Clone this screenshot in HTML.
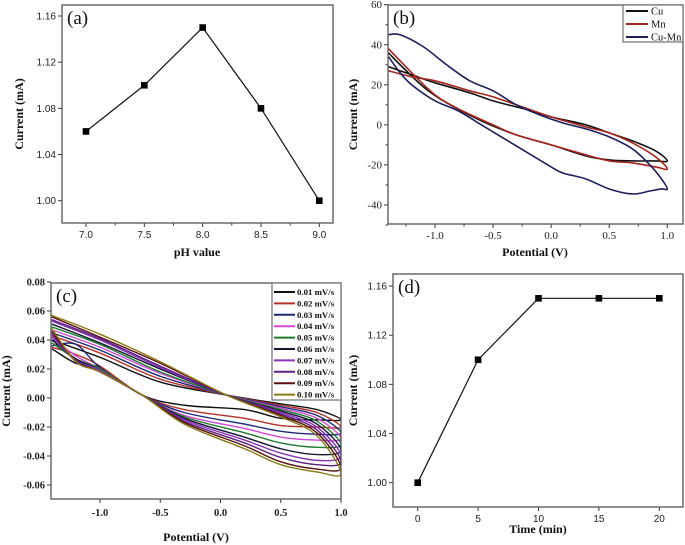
<!DOCTYPE html>
<html><head><meta charset="utf-8"><style>
html,body{margin:0;padding:0;background:#fff}
svg{display:block}
</style></head><body>
<svg id="fig" width="685" height="545" viewBox="0 0 685 545" xmlns="http://www.w3.org/2000/svg"></svg>
<script>
// ---------- Panel (a) data ----------
const phValues = [7.0, 7.5, 8.0, 8.5, 9.0];
const phCurrent = [1.06, 1.10, 1.15, 1.08, 1.00];
const aXTicks = ["7.0","7.5","8.0","8.5","9.0"];
const aYTicks = ["1.00","1.04","1.08","1.12","1.16"];
// ---------- Panel (d) data ----------
const timeValues = [0, 5, 10, 15, 20];
const timeCurrent = [1.00, 1.10, 1.15, 1.15, 1.15];
const dXTicks = ["0","5","10","15","20"];
const dYTicks = ["1.00","1.04","1.08","1.12","1.16"];
// ---------- Panel (b) data ----------
const bSeries = ["Cu","Mn","Cu-Mn"];
const cuV = [-1.4,-1.2,-1.0,-0.7,-0.5,-0.2,0,0.3,0.5,0.7,0.9,1.0,0.9,0.7,0.5,0.3,0,-0.3,-0.6,-0.9,-1.1,-1.3,-1.4];
const cuI = [29,25,21,16,12,7.5,4,0,-4,-8,-13,-18,-18,-18,-17.5,-15.5,-10,-5,2,11,19,30,36];
const mnV = [-1.4,-1.2,-1.0,-0.7,-0.5,-0.2,0,0.3,0.5,0.7,0.9,1.0,0.9,0.7,0.5,0.3,0,-0.3,-0.5,-0.8,-1.0,-1.2,-1.4];
const mnI = [27,24,22,17,14,8,4,-1,-4,-9,-16,-22,-21,-19,-18,-15,-10,-5,0,8,15,26,38];
const cumnV = [-1.4,-1.3,-1.1,-0.9,-0.7,-0.5,-0.3,-0.1,0.1,0.3,0.5,0.7,0.85,0.95,1.0,0.95,0.85,0.7,0.5,0.3,0.1,0,-0.2,-0.4,-0.6,-0.8,-1.0,-1.2,-1.3,-1.4];
const cumnI = [45,45,39,30,22,17,10,5,1,-2,-6,-12,-20,-27,-32,-32,-33,-34.5,-32,-27,-24,-21,-14,-7,0,7,12,20,26,34];
const bXTicks = ["-1.0","-0.5","0.0","0.5","1.0"];
const bYTicks = ["-40","-20","0","20","40","60"];
// ---------- Panel (c) data ----------
const cSeries = ["0.01 mV/s","0.02 mV/s","0.03 mV/s","0.04 mV/s","0.05 mV/s","0.06 mV/s","0.07 mV/s","0.08 mV/s","0.09 mV/s","0.10 mV/s"];
const upStart = [0.040,0.043,0.045,0.047,0.049,0.051,0.053,0.054,0.056,0.057];
const upAtM10 = [0.028,0.031,0.033,0.035,0.037,0.038,0.040,0.041,0.042,0.044];
const upAtM05 = [0.011,0.013,0.015,0.017,0.018,0.020,0.021,0.022,0.024,0.025];
const upAtP05 = [-0.004,-0.005,-0.006,-0.007,-0.008,-0.009,-0.010,-0.011,-0.012,-0.013];
const upAtP08 = [-0.008,-0.010,-0.012,-0.014,-0.016,-0.018,-0.020,-0.022,-0.024,-0.026];
const vertexI = [-0.015,-0.020,-0.024,-0.028,-0.032,-0.036,-0.040,-0.044,-0.048,-0.052];
const lowAtP08 = [-0.015,-0.020,-0.025,-0.029,-0.034,-0.039,-0.043,-0.046,-0.049,-0.051];
const lowAtP05 = [-0.014,-0.019,-0.023,-0.027,-0.031,-0.035,-0.038,-0.041,-0.044,-0.046];
const lowAtP02 = [-0.008,-0.014,-0.018,-0.021,-0.024,-0.027,-0.029,-0.031,-0.033,-0.035];
const lowAtM03 = [-0.005,-0.008,-0.010,-0.012,-0.013,-0.014,-0.015,-0.016,-0.017,-0.018];
const lowAtM10 = [0.021,0.022,0.021,0.020,0.020,0.019,0.019,0.018,0.018,0.018];
const lowAtM12 = [0.024,0.030,0.037,0.029,0.027,0.027,0.026,0.026,0.025,0.025];
const lowEnd = [0.034,0.035,0.036,0.042,0.038,0.040,0.042,0.044,0.046,0.048];
const cXTicks = ["-1.0","-0.5","0.0","0.5","1.0"];
const cYTicks = ["-0.06","-0.04","-0.02","0.00","0.02","0.04","0.06","0.08"];

const NS = "http://www.w3.org/2000/svg";
const fig = document.getElementById('fig');
function mk(tag, attrs, parent, text){
  const e = document.createElementNS(NS, tag);
  for (const k in attrs) e.setAttribute(k, attrs[k]);
  if (text !== undefined) e.textContent = text;
  (parent||fig).appendChild(e);
  return e;
}
function scale(d0,d1,r0,r1){ return v => r0 + (v-d0)/(d1-d0)*(r1-r0); }
function smooth(pts){
  let d = "M"+pts[0][0].toFixed(2)+","+pts[0][1].toFixed(2);
  for (let i=0;i<pts.length-1;i++){
    const p0=pts[Math.max(0,i-1)], p1=pts[i], p2=pts[i+1], p3=pts[Math.min(pts.length-1,i+2)];
    const c1=[p1[0]+(p2[0]-p0[0])/6, p1[1]+(p2[1]-p0[1])/6];
    const c2=[p2[0]-(p3[0]-p1[0])/6, p2[1]-(p3[1]-p1[1])/6];
    d += " C"+c1[0].toFixed(2)+","+c1[1].toFixed(2)+" "+c2[0].toFixed(2)+","+c2[1].toFixed(2)+" "+p2[0].toFixed(2)+","+p2[1].toFixed(2);
  }
  return d;
}
const SANS = '"Liberation Sans", Arial, sans-serif';
const SERIF = '"Liberation Serif", "Times New Roman", serif';

function axes(o){
  const g = mk('g', {});
  
  
  const xg = mk('g', {}, g);
  
  
  o.xTickVals.forEach((v,i)=>{
    const x = o.sx(v);
    mk('line',{x1:x,x2:x,y1:o.b,y2:o.b+4,stroke:'#333','stroke-width':1},xg);
    const t = mk('text',{x:x,y:o.b+o.xLabDy,'text-anchor':'middle','font-family':o.tickFont,'font-size':o.tickSize,'font-weight':o.tickWeight,fill:'#222'},xg,o.xTicks[i]);
    
    
  });
  (o.xMinor||[]).forEach(v=>{ const x=o.sx(v); mk('line',{x1:x,x2:x,y1:o.b,y2:o.b+2.5,stroke:'#333','stroke-width':1},xg); });
  const yg = mk('g', {}, g);
  
  
  o.yTickVals.forEach((v,i)=>{
    const y = o.sy(v);
    mk('line',{x1:o.l-4,x2:o.l,y1:y,y2:y,stroke:'#333','stroke-width':1},yg);
    const t = mk('text',{x:o.l-6,y:y+3.5,'text-anchor':'end','font-family':o.tickFont,'font-size':o.tickSize,'font-weight':o.tickWeight,fill:'#222'},yg,o.yTicks[i]);
    
    
  });
  (o.yMinor||[]).forEach(v=>{ const y=o.sy(v); mk('line',{x1:o.l-2.5,x2:o.l,y1:y,y2:y,stroke:'#333','stroke-width':1},yg); });
  const xt = mk('text',{x:o.xTitleX,y:o.xTitleY,'text-anchor':'middle','font-family':SERIF,'font-size':12,'font-weight':'bold',fill:'#111'},g,o.xTitle);
  
  
  const yt = mk('text',{x:0,y:0,transform:`translate(${o.yTitleX},${(o.t+o.b)/2}) rotate(-90)`,'text-anchor':'middle','font-family':SERIF,'font-size':12,'font-weight':'bold',fill:'#111'},g,'Current (mA)');
  
  
  const plot = mk('g',{'clip-path':`url(#clip-${o.name})`},g);
  const cp = mk('clipPath',{id:'clip-'+o.name},g);
  mk('rect',{x:o.l,y:o.t,width:o.r-o.l,height:o.b-o.t},cp);
  const pl = mk('text',{x:o.l+5,y:o.t+19,'font-family':SERIF,'font-size':19,fill:'#111'},g,o.label);
  
  
  return {g, plot};
}
function frame(o,g){
  const f = mk('rect',{x:o.l,y:o.t,width:o.r-o.l,height:o.b-o.t,fill:'none',stroke:'#555','stroke-width':1.3},g);
  
  
}
function scatterLine(o, plot, xs, ys){
  const pts = xs.map((x,i)=>[o.sx(x), o.sy(ys[i])]);
  const pl = mk('polyline',{points:pts.map(p=>p.join(',')).join(' '),fill:'none',stroke:'#111','stroke-width':1.2},plot);
  
  
  pts.forEach(p=>{
    const r = mk('rect',{x:p[0]-3.3,y:p[1]-3.3,width:6.6,height:6.6,fill:'#000'},plot);
    
    
  });
}

// ----- Panel (a)
{
  const o = {name:'a',label:'(a)',l:62,r:333,t:5,b:223};
  o.sx = scale(7,9,86,319.3); o.sy = scale(1.0,1.16,200.7,16);
  o.xTickVals = aXTicks.map(Number); o.yTickVals = aYTicks.map(Number);
  o.xTicks=aXTicks; o.yTicks=aYTicks; o.xMinor=[7.25,7.75,8.25,8.75];
  o.tickFont=SANS; o.tickSize=10; o.tickWeight='normal'; o.xLabDy=15;
  o.xTitle='pH value'; o.xTitleX=197; o.xTitleY=256; o.yTitleX=23;
  const {g,plot} = axes(o);
  scatterLine(o, plot, phValues, phCurrent);
  frame(o,g);
}
// ----- Panel (d)
{
  const o = {name:'d',label:'(d)',l:393,r:683,t:274,b:507};
  o.sx = scale(0,20,417.7,659.3); o.sy = scale(1.0,1.16,482.7,286);
  o.xTickVals = dXTicks.map(Number); o.yTickVals = dYTicks.map(Number);
  o.xTicks=dXTicks; o.yTicks=dYTicks;
  o.tickFont=SANS; o.tickSize=10; o.tickWeight='normal'; o.xLabDy=15;
  o.xTitle='Time (min)'; o.xTitleX=538; o.xTitleY=533; o.yTitleX=357;
  const {g,plot} = axes(o);
  scatterLine(o, plot, timeValues, timeCurrent);
  frame(o,g);
}
// ----- Panel (b)
{
  const o = {name:'b',label:'(b)',l:388,r:683,t:5,b:224};
  o.sx = scale(-1,1,435,667.3); o.sy = scale(-40,60,205,4.7);
  o.xTickVals = bXTicks.map(Number); o.yTickVals = bYTicks.map(Number);
  o.xTicks=bXTicks; o.yTicks=bYTicks; o.xMinor=[-1.25,-0.75,-0.25,0.25,0.75];
  o.yMinor=[-50,-30,-10,10,30,50];
  o.tickFont=SERIF; o.tickSize=11; o.tickWeight='normal'; o.xLabDy=15;
  o.xTitle='Potential (V)'; o.xTitleX=535; o.xTitleY=256; o.yTitleX=357;
  const {g,plot} = axes(o);
  const colors = ['#111111','#a8241c','#1c1f5e'];
  const data = [[cuV,cuI],[mnV,mnI],[cumnV,cumnI]];
  data.forEach((d,k)=>{
    const pts = d[0].map((v,i)=>[o.sx(v), o.sy(d[1][i])]);
    const p = mk('path',{d:smooth(pts),fill:'none',stroke:colors[k],'stroke-width':1.6},plot);
    
    
  });
  frame(o,g);
  const lg = mk('g',{},g);
  
  
  mk('rect',{x:623,y:5,width:60,height:37,fill:'#fff',stroke:'#555','stroke-width':1},lg);
  bSeries.forEach((s,k)=>{
    const y = 11+k*13;
    mk('line',{x1:626,x2:648,y1:y,y2:y,stroke:colors[k],'stroke-width':2},lg);
    const t = mk('text',{x:651,y:y+3.5,'font-family':SERIF,'font-size':10.5,fill:'#111'},lg,s);
    
    
  });
}
// ----- Panel (c)
{
  const o = {name:'c',label:'(c)',l:51,r:341,t:283,b:499};
  o.sx = scale(-1,1,100,341); o.sy = scale(-0.06,0.08,485,282);
  o.xTickVals = cXTicks.map(Number); o.yTickVals = cYTicks.map(Number);
  o.xTicks=cXTicks; o.yTicks=cYTicks;
  o.tickFont=SERIF; o.tickSize=10.5; o.tickWeight='bold'; o.xLabDy=17;
  o.xTitle='Potential (V)'; o.xTitleX=196; o.xTitleY=541; o.yTitleX=10;
  const {g,plot} = axes(o);
  const colors = ['#111111','#b5322a','#1d2a7a','#d04ad6','#1f7a2e','#141433','#8a34b8','#5e1f80','#5a1212','#8a7a14'];
  cSeries.forEach((s,k)=>{
    const raw = [[-1.4,upStart[k]],[-1.0,upAtM10[k]],[-0.5,upAtM05[k]],[0.05,0.002],[0.5,upAtP05[k]],[0.8,upAtP08[k]],[1.0,vertexI[k]],
                 [0.8,lowAtP08[k]],[0.5,lowAtP05[k]],[0.2,lowAtP02[k]],[-0.3,lowAtM03[k]],[-0.65,0.002],[-1.0,lowAtM10[k]],[-1.2,lowAtM12[k]],[-1.4,lowEnd[k]]];
    const pts = raw.map(p=>[o.sx(p[0]), o.sy(p[1])]);
    const p = mk('path',{d:smooth(pts),fill:'none',stroke:colors[k],'stroke-width':1.4},plot);
    
    
  });
  frame(o,g);
  const lg = mk('g',{},g);
  
  
  mk('rect',{x:272,y:283,width:69,height:117,fill:'#fff',stroke:'#555','stroke-width':1},lg);
  cSeries.forEach((s,k)=>{
    const y = 292+k*11.4;
    mk('line',{x1:274,x2:295,y1:y,y2:y,stroke:colors[k],'stroke-width':2},lg);
    const t = mk('text',{x:297,y:y+3,'font-family':SERIF,'font-size':8.8,'font-weight':'bold',fill:'#111'},lg,s);
    
    
  });
}
</script>
</body></html>
